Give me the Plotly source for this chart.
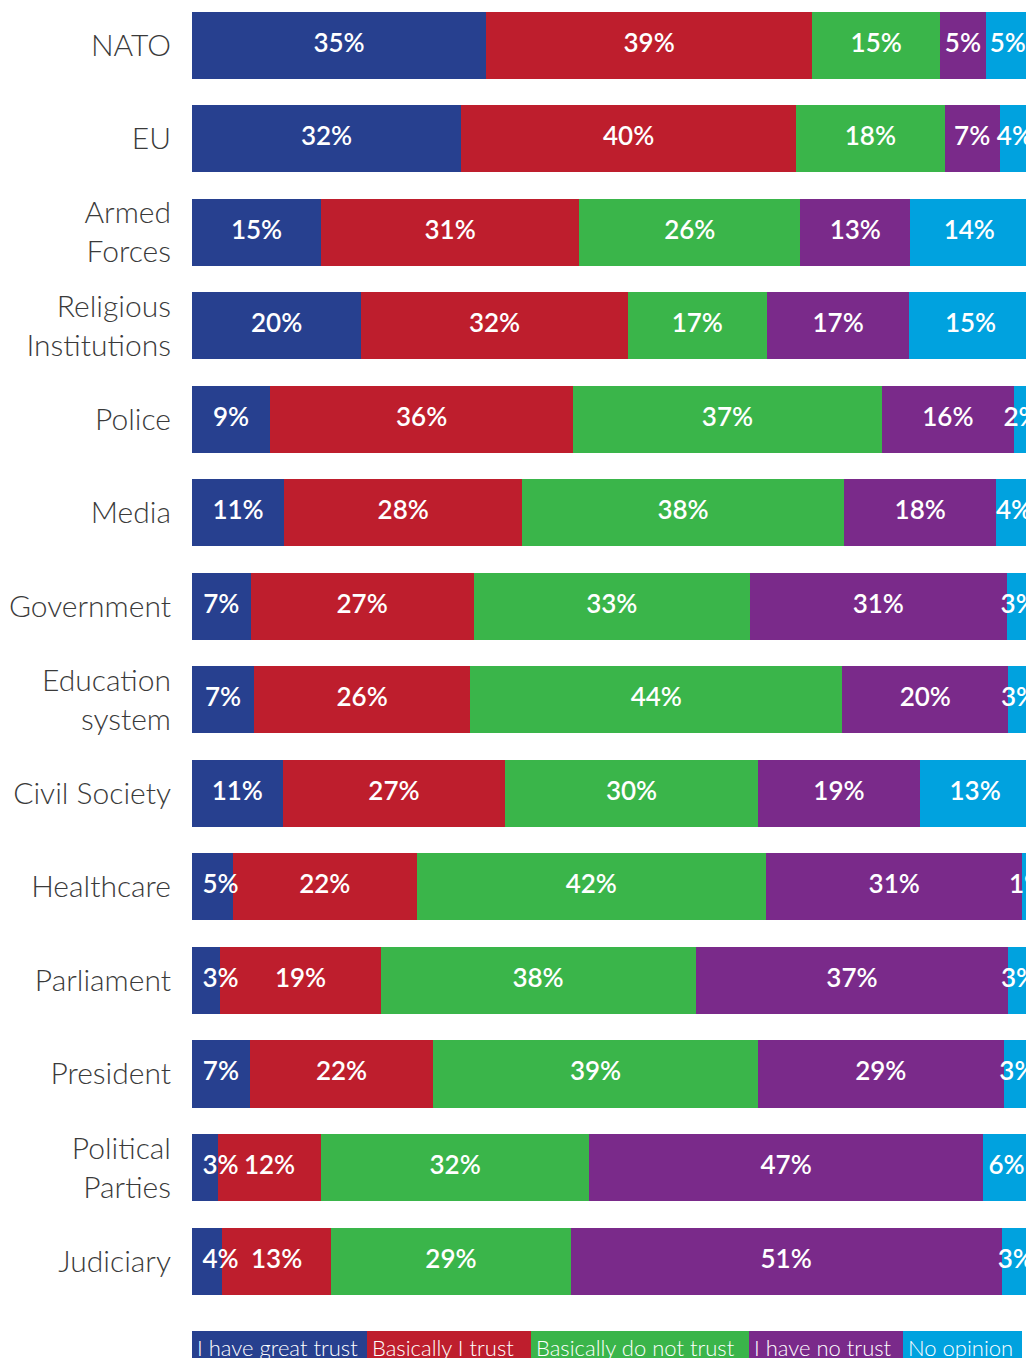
import plotly.graph_objects as go

categories = ["NATO", "EU", "Armed<br>Forces", "Religious<br>Institutions", "Police", "Media",
              "Government", "Education<br>system", "Civil Society", "Healthcare", "Parliament",
              "President", "Political<br>Parties", "Judiciary"]

series_names = ["I have great trust", "Basically I trust", "Basically do not trust",
                "I have no trust", "No opinion"]

great_trust = [35.1, 32.1, 15.4, 20.2, 9.3, 11.0, 7.0, 7.4, 10.8, 4.9, 3.4, 6.9, 3.1, 3.6]
basically_trust = [38.9, 40.0, 30.8, 31.8, 36.2, 28.4, 26.6, 25.8, 26.6, 21.9, 19.1, 21.9, 12.3, 13.0]
not_trust = [15.3, 17.7, 26.4, 16.6, 36.8, 38.4, 33.0, 44.4, 30.1, 41.7, 37.6, 38.7, 32.0, 28.6]
no_trust = [5.4, 6.6, 13.1, 17.0, 15.8, 18.2, 30.6, 19.8, 19.4, 30.6, 37.3, 29.4, 47.0, 51.4]
no_opinion = [5.3, 3.6, 14.1, 14.6, 1.8, 4.2, 2.9, 2.6, 13.1, 1.1, 2.6, 3.2, 5.6, 3.4]

colors = ["#27408f", "#be1e2d", "#3ab54a", "#7a2a8a", "#00a2df"]

all_series = [great_trust, basically_trust, not_trust, no_trust, no_opinion]

fig = go.Figure()

# stacked bars
for name, vals, col in zip(series_names, all_series, colors):
    fig.add_trace(go.Bar(x=vals, y=categories, orientation="h", name=name,
                         marker=dict(color=col, line=dict(width=0)), hoverinfo="skip"))

# percent labels centred in each segment
start = [0.0] * len(categories)
for i, vals in enumerate(all_series):
    mids = [s + v / 2 for s, v in zip(start, vals)]
    if i == 0:
        mids = [max(m, 3.4) for m in mids]
    fig.add_trace(go.Scatter(
        x=mids, y=categories, mode="text",
        text=[f"{round(v)}%" for v in vals],
        textfont=dict(family="Lato", size=26, color="white", weight=600),
        cliponaxis=False, hoverinfo="skip"))
    start = [s + v for s, v in zip(start, vals)]

# custom legend strip under the chart (plot area is 838 x 1300 px)
PW, PH = 838, 1300
legend_edges = [184, 359, 523, 741, 895, 1014]
for i, name in enumerate(series_names):
    x0 = (legend_edges[i] - 184) / PW
    x1 = (legend_edges[i + 1] - 184) / PW
    fig.add_shape(type="rect", xref="paper", yref="paper", x0=x0, x1=x1,
                  y0=(PH - 1323) / PH, y1=(PH - 1352) / PH,
                  fillcolor=colors[i], line=dict(width=0), layer="above")
    fig.add_annotation(xref="paper", yref="paper", x=x0 + 3 / PW, y=(PH - 1339) / PH,
                       xanchor="left", yanchor="middle", text=name, showarrow=False,
                       font=dict(family="Lato", size=22, color="white", weight=300))

fig.update_layout(
    width=1026, height=1350,
    margin=dict(l=184, r=4, t=0, b=1350 - PH),
    paper_bgcolor="white", plot_bgcolor="white",
    barmode="stack", bargap=0.283,
    showlegend=False,
    xaxis=dict(range=[0, 100], visible=False, fixedrange=True),
    yaxis=dict(range=[13.502, -0.396], autorange=False, showgrid=False, zeroline=False,
               showline=False, ticks="", ticklabelstandoff=20,
               tickfont=dict(family="Lato", size=30, color="#3a3a3a", weight=300)),
)

fig.write_html("out.html")
